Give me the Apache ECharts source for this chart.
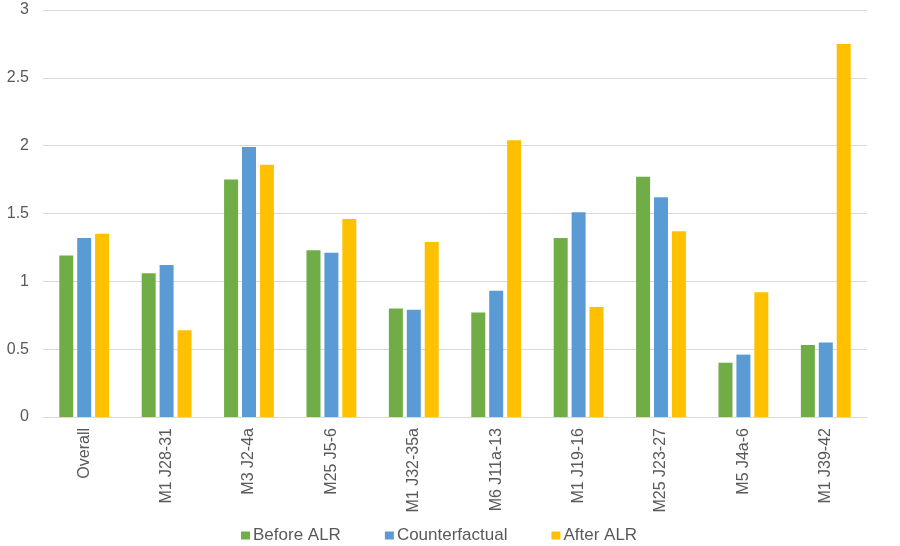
<!DOCTYPE html>
<html>
<head>
<meta charset="utf-8">
<script src="https://cdn.jsdelivr.net/npm/echarts@6/dist/echarts.min.js"></script>
<style>
html,body{margin:0;padding:0;background:#fff;}
#chart{width:900px;height:546px;}
</style>
</head>
<body>
<div id="chart"></div>
<script>
const categories = ["Overall","M1 J28-31","M3 J2-4a","M25 J5-6","M1 J32-35a","M6 J11a-13","M1 J19-16","M25 J23-27","M5 J4a-6","M1 J39-42"];
const beforeALR = [1.19, 1.06, 1.75, 1.23, 0.80, 0.77, 1.32, 1.77, 0.40, 0.53];
const counterfactual = [1.32, 1.12, 1.99, 1.21, 0.79, 0.93, 1.51, 1.62, 0.46, 0.55];
const afterALR = [1.35, 0.64, 1.86, 1.46, 1.29, 2.04, 0.81, 1.37, 0.92, 2.75];
const yTicks = [0, 0.5, 1, 1.5, 2, 2.5, 3];

const chart = echarts.init(document.getElementById('chart'));
const font = "'Liberation Sans', Arial, sans-serif";
const mk = (name, data, color) => ({
  name, type: 'bar', data, barWidth: 14, barGap: '28%',
  itemStyle: { color }
});
chart.setOption({
  animation: false,
  textStyle: { fontFamily: font },
  grid: { left: 43, right: 33, top: 10, bottom: 129 },
  legend: {
    top: 522, left: 236,
    itemWidth: 9, itemHeight: 8, itemGap: 44,
    icon: 'rect',
    textStyle: { fontFamily: font, fontSize: 17, color: '#595959', padding: [0,0,0,-2] },
    data: ['Before ALR', 'Counterfactual', 'After ALR']
  },
  xAxis: {
    type: 'category', data: categories,
    axisLine: { lineStyle: { color: '#d9d9d9', width: 1 } },
    axisTick: { show: false },
    axisLabel: { rotate: 90, interval: 0, margin: 11, fontSize: 16, color: '#595959', fontFamily: font }
  },
  yAxis: {
    type: 'value', min: yTicks[0], max: yTicks[yTicks.length-1], interval: 0.5,
    axisLine: { show: false }, axisTick: { show: false },
    splitLine: { lineStyle: { color: '#d9d9d9', width: 1 } },
    axisLabel: { margin: 14, fontSize: 16, color: '#595959', fontFamily: font,
      formatter: v => String(v) }
  },
  series: [
    mk('Before ALR', beforeALR, '#70AD47'),
    mk('Counterfactual', counterfactual, '#5B9BD5'),
    mk('After ALR', afterALR, '#FFC000')
  ]
});
</script>
</body>
</html>
